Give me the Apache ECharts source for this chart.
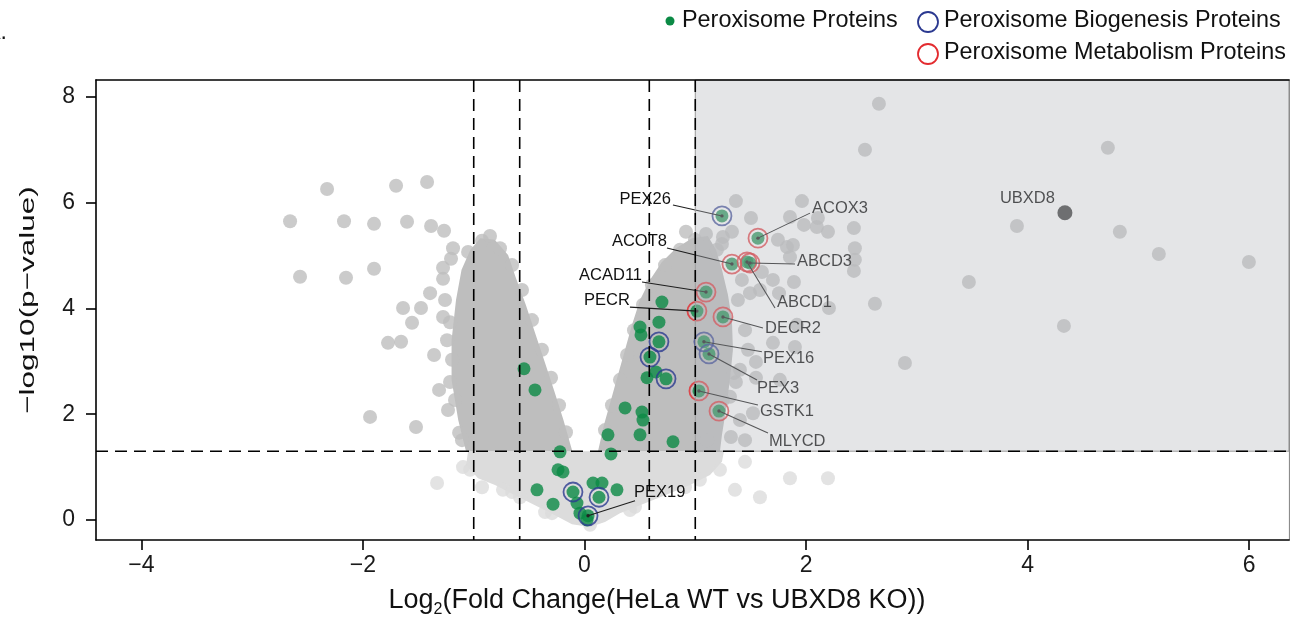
<!DOCTYPE html>
<html><head><meta charset="utf-8">
<script src="https://cdn.jsdelivr.net/npm/echarts@6/dist/echarts.min.js"></script>
<style>html,body{margin:0;padding:0;background:#fff}#c{width:1290px;height:617px}</style>
</head><body><div id="c"></div>
<script>
// ---------------- data ----------------
const xTicks = [-4, -2, 0, 2, 4, 6];
const yTicks = [0, 2, 4, 6, 8];
const vThresholds = [-1, -0.585, 0.585, 1];
const hThresholds = [1.301];
const sigRegion = [1, 1.301]; // log2FC >= 1 and -log10 p >= 1.301

// dense clouds of proteins (outline of the overlapping points)
const leftArmOutline = [[-1.03,5.11],[-0.94,5.33],[-0.81,5.30],[-0.69,5.01],[-0.62,4.58],[-0.53,4.07],[-0.44,3.50],[-0.35,2.93],[-0.27,2.42],[-0.19,1.89],[-0.11,1.301],[-1.07,1.301],[-1.14,1.89],[-1.20,2.65],[-1.20,3.40],[-1.16,4.16],[-1.11,4.73]];
const rightArmOutline = [[0.122,1.301],[0.176,1.80],[0.239,2.27],[0.302,2.74],[0.366,3.22],[0.429,3.69],[0.501,4.16],[0.591,4.54],[0.699,4.88],[0.826,5.14],[0.970,5.33],[1.114,5.37],[1.187,5.11],[1.241,4.73],[1.295,4.26],[1.331,3.78],[1.340,3.22],[1.313,2.65],[1.277,2.08],[1.241,1.61],[1.223,1.301]];
const lowerOutline = [[-1.051,1.301],[-1.069,1.04],[-0.961,0.79],[-0.808,0.66],[-0.627,0.47],[-0.447,0.28],[-0.266,0.09],[-0.113,-0.08],[0.050,-0.13],[0.185,-0.04],[0.320,0.13],[0.501,0.28],[0.727,0.47],[0.952,0.66],[1.133,0.85],[1.241,1.10],[1.259,1.301]];

// individual significant proteins (grey)
const greyPoints = [
[-2.658,5.65],[-2.568,4.60],[-2.324,6.26],[-2.171,5.65],[-2.153,4.58],[-1.936,1.95],[-1.900,5.60],[-1.900,4.75],[-1.774,3.35],[-1.701,6.32],[-1.656,3.37],[-1.638,4.01],[-1.602,5.64],[-1.557,3.73],[-1.521,1.76],[-1.476,4.01],[-1.421,6.39],[-1.394,4.29],[-1.385,5.56],[-1.358,3.12],[-1.313,2.46],[-1.277,4.77],[-1.277,4.56],[-1.268,5.47],[-1.232,2.08],[-1.205,4.94],[-1.187,5.14],[-1.132,1.65],[-1.051,5.07],[-0.925,5.28],
[-1.259,4.16],[-1.277,3.84],[-1.214,3.74],[-1.241,3.40],[-1.214,2.61],[-1.196,3.03],[-1.169,2.27],[-1.106,1.51],[-0.853,5.37],[-0.763,5.14],
[-0.654,4.82],[-0.564,4.35],[-0.474,3.78],[-0.384,3.22],[-0.302,2.69],[-0.230,2.17],[-0.167,1.66],
[0.185,1.70],[0.248,2.17],[0.320,2.65],[0.384,3.12],[0.447,3.59],[0.528,4.07],[0.609,4.44],[0.727,4.82],[0.862,5.11],[0.997,5.30],[0.916,5.45],
[1.367,6.03],[1.963,6.03],[1.503,5.71],[1.855,5.73],[2.107,5.71],[1.981,5.58],[2.098,5.54],[2.198,5.45],[2.432,5.52],[1.097,5.41],[1.331,5.45],[1.241,5.22],[1.828,5.16],[2.441,5.14],[2.441,4.92],[2.432,4.71],[1.701,4.54],[1.891,4.50],[1.421,4.54],[1.494,4.29],[1.756,4.29],[2.207,4.01],[1.918,3.69],[1.701,3.35],[1.900,3.27],[1.548,2.99],[1.349,2.78],[1.548,2.69],[1.367,2.61],[1.322,1.57],[1.106,1.51],[1.250,2.27],[1.602,4.69],[1.584,4.35],[1.764,2.65],[1.403,2.84],[1.313,2.33],[1.521,2.02],[1.196,5.11],[1.250,5.35],[1.746,5.30],[1.882,5.20],[1.855,4.97],[1.449,3.59],[1.476,3.22],[1.403,1.89],[1.449,1.51],[1.385,4.16],
[2.658,7.87],[2.532,7.00],[4.725,7.04],[3.904,5.56],[4.833,5.45],[5.185,5.03],[5.998,4.88],[3.470,4.50],[2.622,4.09],[4.328,3.67],[2.893,2.97]
];
// non-significant proteins (light grey)
const lightPoints = [[-1.331,0.70],[-1.097,1.00],[-0.925,0.62],[-0.736,0.57],[-0.582,0.43],[1.358,0.57],[1.584,0.43],[1.855,0.79],[2.198,0.79],[1.223,0.95],[1.449,1.10],[1.042,0.76],[-0.356,0.15],[0.411,0.19],[-1.033,0.95],[-0.654,0.53],[-0.293,0.13],[0.050,-0.09],[0.456,0.25],[0.907,0.62]];
// peroxisome proteins (green, unlabeled)
const greenPoints = [[-0.546,2.86],[-0.447,2.46],[-0.221,1.29],[-0.239,0.95],[-0.194,0.91],[-0.429,0.57],[-0.284,0.30],[-0.104,0.53],[-0.068,0.32],[-0.041,0.13],[0.023,0.00],[0.077,0.70],[0.158,0.70],[0.293,0.57],[0.131,0.43],[0.212,1.61],[0.501,1.61],[0.239,1.25],[0.799,1.48],[0.699,4.12],[0.672,3.74],[0.501,3.65],[0.510,3.50],[0.672,3.37],[0.591,3.08],[0.736,2.67],[0.564,2.69],[0.645,2.80],[0.366,2.12],[0.519,2.04],[0.528,1.89]];
// unlabeled biogenesis proteins (blue rings)
const biogenesisRings = [[-0.104,0.53],[0.131,0.43],[0.672,3.37],[0.591,3.08],[0.736,2.67]];
// labeled peroxisome proteins: name, log2FC, -log10 p, class (B biogenesis / M metabolism)
const labeledProteins = [
['PEX26',1.241,5.75,'B'],['ACOX3',1.566,5.33,'M'],['ACOT8',1.331,4.84,'M'],['ABCD3',1.494,4.86,'M'],['ABCD1',1.467,4.88,'M'],
['ACAD11',1.097,4.31,'M'],['PECR',1.015,3.95,'M'],['DECR2',1.250,3.84,'M'],['PEX16',1.078,3.37,'B'],['PEX3',1.124,3.14,'B'],
['GSTK1',1.033,2.44,'M'],['MLYCD',1.214,2.06,'M'],['PEX19',0.032,0.08,'B']
];
const ubxd8 = ['UBXD8', 4.337, 5.81];

// ---------------- layout / styles ----------------
// label placement in pixel offsets from the point: leader end, text anchor, alignment
const labelLayout = {
 PEX26:{line:[-49,-11],text:[-51,-16,'right']}, ACOX3:{line:[52,-25],text:[54,-30,'left']},
 ACOT8:{line:[-65,-16],text:[-65,-23,'right']}, ABCD3:{line:[45,1],text:[47,-2,'left']},
 ABCD1:{line:[28,46],text:[30,41,'left']}, ACAD11:{line:[-64,-10],text:[-64,-17,'right']},
 PECR:{line:[-67,-4],text:[-67,-11,'right']}, DECR2:{line:[40,11],text:[42,12,'left']},
 PEX16:{line:[58,10],text:[59,17,'left']}, PEX3:{line:[48,26],text:[48,35,'left']},
 GSTK1:{line:[59,14],text:[61,20,'left']}, MLYCD:{line:[49,22],text:[50,30,'left']},
 PEX19:{line:[47,-15],text:[46,-23,'left']}, UBXD8:{line:null,text:[-10,-14,'right']}
};
const FONT = '"Liberation Sans", Arial, Helvetica, sans-serif';
const GREY = '#bebebe', LIGHT = '#dcdcdc', GREEN = '#0b8a45', BLUE = '#2b3990', RED = '#e32b2f';
const X_MIN = -4.41, X_MAX = 6.36, Y_MIN = -0.378, Y_MAX = 8.32;
const fmt = v => (v < 0 ? '\u2212' + Math.abs(v) : String(v));

function polygonSeries(outline, color, z) {
  return { type:'custom', coordinateSystem:'cartesian2d', z, silent:true, data:[outline[0]],
    renderItem:(params, api) => ({ type:'polygon', shape:{ points: outline.map(p => api.coord(p)) }, style:{ fill: color } }) };
}
function scatter(data, size, itemStyle, z) {
  return { type:'scatter', data, symbol:'circle', symbolSize:size, itemStyle, z, silent:true };
}

const allLabels = labeledProteins.concat([ubxd8]);
const chart = echarts.init(document.getElementById('c'), null, { renderer:'canvas', width:1290, height:617 });
chart.setOption({
  animation:false,
  grid:{ left:96, right:1, top:80, bottom:77, outerBoundsMode:'none', containLabel:false },
  xAxis:[
    { type:'value', min:X_MIN, max:X_MAX, z:10,
      axisLine:{ show:true, onZero:false, lineStyle:{ color:'#000', width:1.6 } },
      axisTick:{ show:true, customValues:xTicks, length:10, lineStyle:{ color:'#000', width:1.6 } },
      axisLabel:{ show:true, customValues:xTicks, formatter:fmt, fontSize:23, color:'#1a1a1a', margin:14, fontFamily:FONT },
      splitLine:{ show:false } },
    { type:'value', position:'top', min:X_MIN, max:X_MAX, z:10,
      axisLine:{ show:true, onZero:false, lineStyle:{ color:'#000', width:1.6 } },
      axisTick:{ show:false }, axisLabel:{ show:false }, splitLine:{ show:false } }
  ],
  yAxis:[
    { type:'value', min:Y_MIN, max:Y_MAX, z:10,
      axisLine:{ show:true, onZero:false, lineStyle:{ color:'#000', width:1.6 } },
      axisTick:{ show:true, customValues:yTicks, length:10, lineStyle:{ color:'#000', width:1.6 } },
      axisLabel:{ show:true, customValues:yTicks, formatter:fmt, fontSize:23, color:'#1a1a1a', margin:21, fontFamily:FONT },
      splitLine:{ show:false } },
    { type:'value', position:'right', min:Y_MIN, max:Y_MAX, z:10,
      axisLine:{ show:true, onZero:false, lineStyle:{ color:'#8c8c8c', width:1.2 } },
      axisTick:{ show:false }, axisLabel:{ show:false }, splitLine:{ show:false } }
  ],
  series:[
    polygonSeries(lowerOutline, LIGHT, 1),
    scatter(lightPoints, 14, { color: LIGHT }, 1),
    polygonSeries(leftArmOutline, GREY, 2),
    polygonSeries(rightArmOutline, GREY, 2),
    scatter(greyPoints, 14, { color: GREY }, 2),
    scatter(greenPoints.concat(labeledProteins.map(d => [d[1], d[2]])), 13, { color: GREEN }, 3),
    scatter(biogenesisRings.concat(labeledProteins.filter(d => d[3] === 'B').map(d => [d[1], d[2]])), 19,
      { color:'rgba(0,0,0,0)', borderColor: BLUE, borderWidth: 1.8 }, 4),
    scatter(labeledProteins.filter(d => d[3] === 'M').map(d => [d[1], d[2]]), 19,
      { color:'rgba(0,0,0,0)', borderColor: RED, borderWidth: 1.8 }, 4),
    scatter([[ubxd8[1], ubxd8[2]]], 15, { color:'#161616' }, 4),
    { type:'custom', z:5, silent:true, data: allLabels.map(d => [d[1], d[2]]),
      renderItem:(params, api) => {
        const d = allLabels[params.dataIndex];
        const L = labelLayout[d[0]];
        const p = api.coord([d[1], d[2]]);
        const children = [];
        if (L.line) children.push({ type:'line', shape:{ x1:p[0] + L.line[0], y1:p[1] + L.line[1], x2:p[0], y2:p[1] },
          style:{ stroke:'#1e1e1e', lineWidth:1.1 } });
        children.push({ type:'text', x:p[0] + L.text[0], y:p[1] + L.text[1],
          style:{ text:d[0], fontSize:16.5, fontFamily:FONT, fill:'#111', align:L.text[2], textAlign:L.text[2], verticalAlign:'middle', textVerticalAlign:'middle' } });
        if (L.line) children.push({ type:'circle', shape:{ cx:p[0], cy:p[1], r:1.7 }, style:{ fill:'#222' } });
        return { type:'group', children };
      } },
    { type:'custom', z:6, silent:true, data:[[sigRegion[0], sigRegion[1]]],
      renderItem:(params, api) => {
        const a = api.coord([sigRegion[0], Y_MAX]);
        const b = api.coord([X_MAX, sigRegion[1]]);
        return { type:'rect', shape:{ x:a[0], y:a[1], width:b[0] - a[0], height:b[1] - a[1] },
          style:{ fill:'rgba(182,184,190,0.37)', stroke:'#9a9a9a', lineWidth:1 } };
      } },
    { type:'custom', z:7, silent:true, data: vThresholds.map(v => [v, 0]),
      renderItem:(params, api) => {
        const v = api.value(0);
        const a = api.coord([v, Y_MAX]), b = api.coord([v, Y_MIN]);
        return { type:'line', shape:{ x1:a[0], y1:a[1], x2:b[0], y2:b[1] }, style:{ stroke:'#000', lineWidth:1.6, lineDash:[12,7] } };
      } },
    { type:'custom', z:7, silent:true, data: hThresholds.map(h => [0, h]),
      renderItem:(params, api) => {
        const h = api.value(1);
        const a = api.coord([X_MIN, h]), b = api.coord([X_MAX, h]);
        return { type:'line', shape:{ x1:a[0], y1:a[1], x2:b[0], y2:b[1] }, style:{ stroke:'#000', lineWidth:1.6, lineDash:[12,7] } };
      } }
  ],
  graphic:[
    { type:'circle', shape:{ cx:670, cy:21, r:4.5 }, style:{ fill:GREEN } },
    { type:'text', x:682, y:21, style:{ text:'Peroxisome Proteins', fontSize:23.4, fontFamily:FONT, fill:'#111', align:'left', textAlign:'left', verticalAlign:'middle', textVerticalAlign:'middle' } },
    { type:'circle', shape:{ cx:928, cy:22, r:10 }, style:{ fill:'none', stroke:BLUE, lineWidth:1.8 } },
    { type:'text', x:944, y:21, style:{ text:'Peroxisome Biogenesis Proteins', fontSize:23.4, fontFamily:FONT, fill:'#111', align:'left', textAlign:'left', verticalAlign:'middle', textVerticalAlign:'middle' } },
    { type:'circle', shape:{ cx:928, cy:54, r:10 }, style:{ fill:'none', stroke:RED, lineWidth:1.8 } },
    { type:'text', x:944, y:53, style:{ text:'Peroxisome Metabolism Proteins', fontSize:23.4, fontFamily:FONT, fill:'#111', align:'left', textAlign:'left', verticalAlign:'middle', textVerticalAlign:'middle' } },
    { type:'text', x:657, y:601, style:{ text:'{a|Log}{s|2}{a|(Fold Change(HeLa WT vs UBXD8 KO))}',
        rich:{ a:{ fontSize:27, fontFamily:FONT, fill:'#111', lineHeight:34 }, s:{ fontSize:16, fontFamily:FONT, fill:'#111', lineHeight:16, verticalAlign:'bottom' } },
        align:'center', textAlign:'center', verticalAlign:'middle', textVerticalAlign:'middle' } },
    { type:'text', x:28, y:300, rotation:Math.PI / 2, scaleX:1.5, style:{ text:'\u2212log10(p\u2212value)', fontSize:21, fontFamily:FONT, fill:'#111', align:'center', textAlign:'center', verticalAlign:'middle', textVerticalAlign:'middle' } },
    { type:'text', x:7, y:33, style:{ text:'A.', fontSize:23, fontFamily:FONT, fill:'#111', align:'right', textAlign:'right', verticalAlign:'middle', textVerticalAlign:'middle' } }
  ]
});
</script>
</body></html>
